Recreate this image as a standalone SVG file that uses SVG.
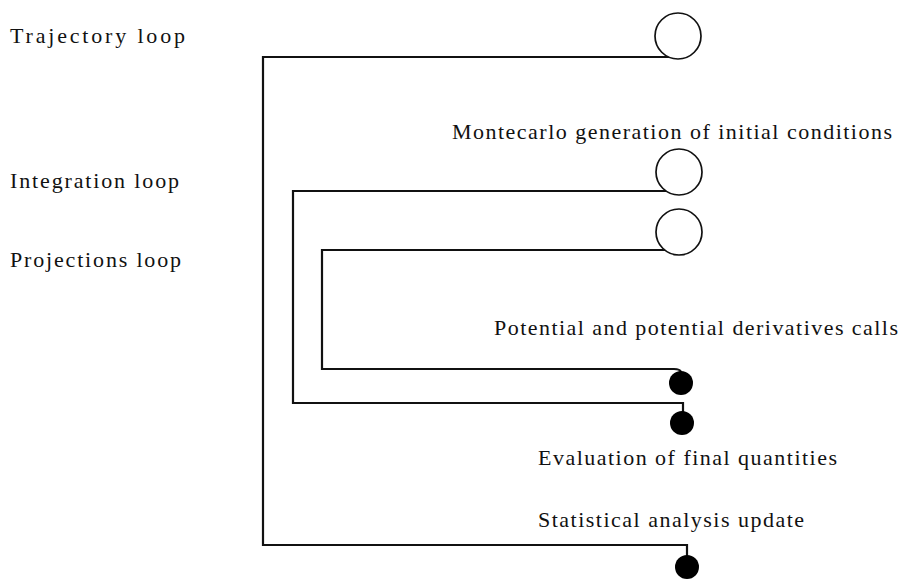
<svg xmlns="http://www.w3.org/2000/svg" width="901" height="581" viewBox="0 0 901 581">
<style>
  text { font-family: "Liberation Serif", "DejaVu Serif", serif; font-size: 22px; fill: #111; }
  .wire { fill: none; stroke: #111; stroke-width: 2.2; stroke-linejoin: miter; }
  .open { fill: #fff; stroke: #111; stroke-width: 1.7; }
  .dot { fill: #000; stroke: none; }
</style>
<rect width="901" height="581" fill="#fff"/>
<g id="labels">
  <text x="10" y="43" textLength="175" lengthAdjust="spacing">Trajectory loop</text>
  <text x="10" y="188" textLength="169" lengthAdjust="spacing">Integration loop</text>
  <text x="10" y="267" textLength="171" lengthAdjust="spacing">Projections loop</text>
</g>
<g id="connectors">
  <path class="wire" d="M674,57 H263 V545 H687 V556"/>
  <path class="wire" d="M674,191 H293 V403 H683 V412"/>
  <path class="wire" d="M674,250 H322 V369 H674 Q680,369 681,372"/>
</g>
<g id="trajectory-start">
  <circle class="open" cx="678" cy="36" r="23"/>
</g>
<g id="montecarlo">
  <text x="452" y="139" textLength="440" lengthAdjust="spacing">Montecarlo generation of initial conditions</text>
  <circle class="open" cx="679" cy="172" r="23"/>
</g>
<g id="projections-start">
  <circle class="open" cx="679" cy="232" r="23"/>
</g>
<g id="potential">
  <text x="494" y="335" textLength="404" lengthAdjust="spacing">Potential and potential derivatives calls</text>
  <circle class="dot" cx="681" cy="383" r="12"/>
</g>
<g id="evaluation">
  <circle class="dot" cx="682" cy="423" r="12"/>
  <text x="538" y="465" textLength="299" lengthAdjust="spacing">Evaluation of final quantities</text>
</g>
<g id="statistical">
  <text x="538" y="527" textLength="266" lengthAdjust="spacing">Statistical analysis update</text>
  <circle class="dot" cx="687" cy="567" r="12"/>
</g>
</svg>
